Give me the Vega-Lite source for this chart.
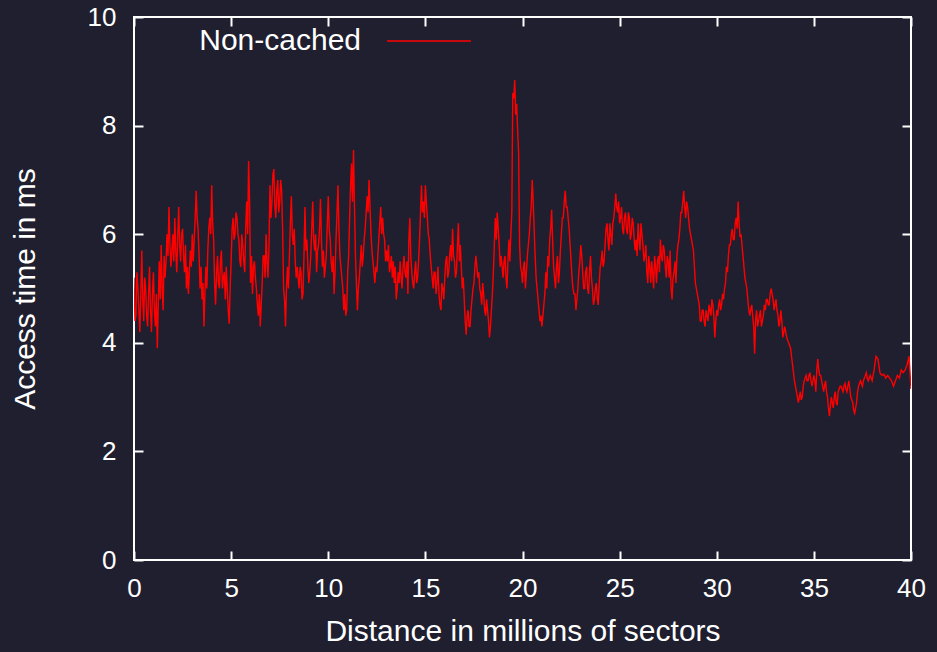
{
"$schema": "https://vega.github.io/schema/vega-lite/v6.json",
"width": 777, "height": 543,
"autosize": "none",
"padding": {"left": 134, "top": 17, "right": 26, "bottom": 92},
"background": "#1f1f2f",
"config": {
  "view": {"stroke": "#ffffff", "strokeWidth": 2},
  "axis": {"domain": false, "grid": false, "tickColor": "#ffffff", "tickSize": -9, "tickWidth": 2, "labelFlush": false,
    "labelColor": "#ffffff", "titleColor": "#ffffff", "labelFont": "Liberation Sans", "titleFont": "Liberation Sans",
    "labelFontSize": 26, "titleFontSize": 30, "titleFontWeight": "normal"},
  "legend": {"labelColor": "#ffffff", "labelFont": "Liberation Sans", "labelFontSize": 30, "labelLimit": 400}
},
"data": {"values": [
{"distance":0.0,"ms":5.2},{"distance":0.05,"ms":4.4},{"distance":0.1,"ms":4.5},{"distance":0.15,"ms":5.3},{"distance":0.2,"ms":5.0},{"distance":0.25,"ms":4.6},{"distance":0.3,"ms":4.2},{"distance":0.35,"ms":4.9},{"distance":0.4,"ms":5.7},{"distance":0.45,"ms":4.8},{"distance":0.5,"ms":4.4},{"distance":0.55,"ms":5.2},{"distance":0.6,"ms":5.0},{"distance":0.65,"ms":4.5},{"distance":0.7,"ms":4.3},{"distance":0.75,"ms":4.9},{"distance":0.8,"ms":5.4},{"distance":0.85,"ms":4.6},{"distance":0.9,"ms":4.2},{"distance":0.95,"ms":4.9},
{"distance":1.0,"ms":5.3},{"distance":1.05,"ms":4.6},{"distance":1.1,"ms":4.3},{"distance":1.15,"ms":4.9},{"distance":1.2,"ms":3.9},{"distance":1.25,"ms":4.7},{"distance":1.3,"ms":5.5},{"distance":1.35,"ms":4.8},{"distance":1.4,"ms":5.8},{"distance":1.45,"ms":5.0},{"distance":1.5,"ms":4.6},{"distance":1.55,"ms":5.6},{"distance":1.6,"ms":5.2},{"distance":1.65,"ms":5.5},{"distance":1.7,"ms":6.0},{"distance":1.75,"ms":5.6},{"distance":1.8,"ms":6.5},{"distance":1.85,"ms":5.8},{"distance":1.9,"ms":5.4},{"distance":1.95,"ms":5.7},
{"distance":2.0,"ms":6.0},{"distance":2.05,"ms":5.5},{"distance":2.1,"ms":6.3},{"distance":2.15,"ms":5.7},{"distance":2.2,"ms":5.3},{"distance":2.25,"ms":5.9},{"distance":2.3,"ms":6.5},{"distance":2.35,"ms":5.8},{"distance":2.4,"ms":5.5},{"distance":2.45,"ms":6.0},{"distance":2.5,"ms":6.1},{"distance":2.55,"ms":5.6},{"distance":2.6,"ms":5.3},{"distance":2.65,"ms":5.8},{"distance":2.7,"ms":5.0},{"distance":2.75,"ms":5.4},{"distance":2.8,"ms":4.9},{"distance":2.85,"ms":5.3},{"distance":2.9,"ms":5.7},{"distance":2.95,"ms":5.4},
{"distance":3.0,"ms":6.0},{"distance":3.05,"ms":5.5},{"distance":3.1,"ms":5.9},{"distance":3.15,"ms":6.3},{"distance":3.2,"ms":6.8},{"distance":3.25,"ms":6.3},{"distance":3.3,"ms":6.1},{"distance":3.35,"ms":5.6},{"distance":3.4,"ms":5.0},{"distance":3.45,"ms":5.4},{"distance":3.5,"ms":4.8},{"distance":3.55,"ms":5.1},{"distance":3.6,"ms":4.3},{"distance":3.65,"ms":4.9},{"distance":3.7,"ms":5.4},{"distance":3.75,"ms":5.0},{"distance":3.8,"ms":5.7},{"distance":3.85,"ms":6.1},{"distance":3.9,"ms":6.3},{"distance":3.95,"ms":6.0},
{"distance":4.0,"ms":6.9},{"distance":4.05,"ms":6.2},{"distance":4.1,"ms":5.9},{"distance":4.15,"ms":5.1},{"distance":4.2,"ms":4.7},{"distance":4.25,"ms":5.3},{"distance":4.3,"ms":5.6},{"distance":4.35,"ms":5.1},{"distance":4.4,"ms":5.0},{"distance":4.45,"ms":5.5},{"distance":4.5,"ms":5.7},{"distance":4.55,"ms":5.0},{"distance":4.6,"ms":5.2},{"distance":4.65,"ms":5.3},{"distance":4.7,"ms":4.8},{"distance":4.75,"ms":5.4},{"distance":4.8,"ms":5.0},{"distance":4.85,"ms":4.6},{"distance":4.9,"ms":4.35},{"distance":4.95,"ms":5.0},
{"distance":5.0,"ms":5.5},{"distance":5.05,"ms":6.1},{"distance":5.1,"ms":6.3},{"distance":5.15,"ms":5.9},{"distance":5.2,"ms":6.0},{"distance":5.25,"ms":6.4},{"distance":5.3,"ms":6.3},{"distance":5.35,"ms":6.0},{"distance":5.4,"ms":5.9},{"distance":5.45,"ms":5.5},{"distance":5.5,"ms":5.4},{"distance":5.55,"ms":6.0},{"distance":5.6,"ms":5.8},{"distance":5.65,"ms":5.5},{"distance":5.7,"ms":5.3},{"distance":5.75,"ms":6.1},{"distance":5.8,"ms":6.6},{"distance":5.85,"ms":6.0},{"distance":5.9,"ms":7.35},{"distance":5.95,"ms":6.6},
{"distance":6.0,"ms":5.1},{"distance":6.05,"ms":5.6},{"distance":6.1,"ms":4.9},{"distance":6.15,"ms":5.4},{"distance":6.2,"ms":5.5},{"distance":6.25,"ms":5.2},{"distance":6.3,"ms":5.0},{"distance":6.35,"ms":4.7},{"distance":6.4,"ms":4.5},{"distance":6.45,"ms":4.9},{"distance":6.5,"ms":4.3},{"distance":6.55,"ms":4.7},{"distance":6.6,"ms":5.1},{"distance":6.65,"ms":5.6},{"distance":6.7,"ms":5.6},{"distance":6.75,"ms":5.2},{"distance":6.8,"ms":6.0},{"distance":6.85,"ms":5.5},{"distance":6.9,"ms":5.2},{"distance":6.95,"ms":5.8},
{"distance":7.0,"ms":6.9},{"distance":7.05,"ms":6.3},{"distance":7.1,"ms":6.6},{"distance":7.15,"ms":7.1},{"distance":7.2,"ms":7.2},{"distance":7.25,"ms":6.5},{"distance":7.3,"ms":6.3},{"distance":7.35,"ms":6.8},{"distance":7.4,"ms":7.0},{"distance":7.45,"ms":6.4},{"distance":7.5,"ms":6.6},{"distance":7.55,"ms":7.0},{"distance":7.6,"ms":6.8},{"distance":7.65,"ms":6.1},{"distance":7.7,"ms":5.0},{"distance":7.75,"ms":4.8},{"distance":7.8,"ms":4.3},{"distance":7.85,"ms":5.0},{"distance":7.9,"ms":5.4},{"distance":7.95,"ms":5.0},
{"distance":8.0,"ms":5.6},{"distance":8.05,"ms":6.2},{"distance":8.1,"ms":6.7},{"distance":8.15,"ms":6.0},{"distance":8.2,"ms":5.8},{"distance":8.25,"ms":6.1},{"distance":8.3,"ms":5.5},{"distance":8.35,"ms":5.2},{"distance":8.4,"ms":5.4},{"distance":8.45,"ms":5.2},{"distance":8.5,"ms":5.0},{"distance":8.55,"ms":5.4},{"distance":8.6,"ms":5.3},{"distance":8.65,"ms":4.8},{"distance":8.7,"ms":4.9},{"distance":8.75,"ms":5.6},{"distance":8.8,"ms":6.5},{"distance":8.85,"ms":5.7},{"distance":8.9,"ms":5.9},{"distance":8.95,"ms":5.4},
{"distance":9.0,"ms":5.1},{"distance":9.05,"ms":5.3},{"distance":9.1,"ms":5.6},{"distance":9.15,"ms":6.1},{"distance":9.2,"ms":6.6},{"distance":9.25,"ms":5.9},{"distance":9.3,"ms":5.7},{"distance":9.35,"ms":6.0},{"distance":9.4,"ms":5.3},{"distance":9.45,"ms":5.7},{"distance":9.5,"ms":5.8},{"distance":9.55,"ms":6.1},{"distance":9.6,"ms":6.65},{"distance":9.65,"ms":5.9},{"distance":9.7,"ms":5.4},{"distance":9.75,"ms":5.7},{"distance":9.8,"ms":5.2},{"distance":9.85,"ms":5.4},{"distance":9.9,"ms":5.6},{"distance":9.95,"ms":6.2},
{"distance":10.0,"ms":6.7},{"distance":10.05,"ms":6.1},{"distance":10.1,"ms":5.9},{"distance":10.15,"ms":5.5},{"distance":10.2,"ms":5.3},{"distance":10.25,"ms":5.6},{"distance":10.3,"ms":4.9},{"distance":10.35,"ms":5.3},{"distance":10.4,"ms":5.9},{"distance":10.45,"ms":6.4},{"distance":10.5,"ms":6.9},{"distance":10.55,"ms":6.1},{"distance":10.6,"ms":5.6},{"distance":10.65,"ms":5.4},{"distance":10.7,"ms":5.2},{"distance":10.75,"ms":5.0},{"distance":10.8,"ms":4.6},{"distance":10.85,"ms":4.9},{"distance":10.9,"ms":4.5},{"distance":10.95,"ms":4.6},
{"distance":11.0,"ms":5.3},{"distance":11.05,"ms":5.6},{"distance":11.1,"ms":6.3},{"distance":11.15,"ms":6.9},{"distance":11.2,"ms":7.3},{"distance":11.25,"ms":6.6},{"distance":11.3,"ms":7.55},{"distance":11.35,"ms":6.5},{"distance":11.4,"ms":5.6},{"distance":11.45,"ms":5.1},{"distance":11.5,"ms":4.6},{"distance":11.55,"ms":5.0},{"distance":11.6,"ms":5.2},{"distance":11.65,"ms":5.5},{"distance":11.7,"ms":5.8},{"distance":11.75,"ms":5.4},{"distance":11.8,"ms":5.6},{"distance":11.85,"ms":5.9},{"distance":11.9,"ms":6.1},{"distance":11.95,"ms":6.4},
{"distance":12.0,"ms":6.7},{"distance":12.05,"ms":6.4},{"distance":12.1,"ms":7.0},{"distance":12.15,"ms":6.5},{"distance":12.2,"ms":6.0},{"distance":12.25,"ms":5.7},{"distance":12.3,"ms":5.5},{"distance":12.35,"ms":5.3},{"distance":12.4,"ms":5.1},{"distance":12.45,"ms":5.4},{"distance":12.5,"ms":5.3},{"distance":12.55,"ms":5.6},{"distance":12.6,"ms":5.9},{"distance":12.65,"ms":6.2},{"distance":12.7,"ms":6.5},{"distance":12.75,"ms":6.0},{"distance":12.8,"ms":6.3},{"distance":12.85,"ms":6.0},{"distance":12.9,"ms":5.9},{"distance":12.95,"ms":5.5},
{"distance":13.0,"ms":5.7},{"distance":13.05,"ms":5.5},{"distance":13.1,"ms":5.8},{"distance":13.15,"ms":5.3},{"distance":13.2,"ms":5.4},{"distance":13.25,"ms":5.6},{"distance":13.3,"ms":5.2},{"distance":13.35,"ms":5.5},{"distance":13.4,"ms":5.1},{"distance":13.45,"ms":5.4},{"distance":13.5,"ms":4.8},{"distance":13.55,"ms":5.0},{"distance":13.6,"ms":5.3},{"distance":13.65,"ms":5.1},{"distance":13.7,"ms":5.5},{"distance":13.75,"ms":5.2},{"distance":13.8,"ms":5.0},{"distance":13.85,"ms":5.4},{"distance":13.9,"ms":5.6},{"distance":13.95,"ms":5.3},
{"distance":14.0,"ms":5.2},{"distance":14.05,"ms":5.5},{"distance":14.1,"ms":4.9},{"distance":14.15,"ms":5.9},{"distance":14.2,"ms":6.3},{"distance":14.25,"ms":5.6},{"distance":14.3,"ms":5.3},{"distance":14.35,"ms":5.1},{"distance":14.4,"ms":5.0},{"distance":14.45,"ms":5.3},{"distance":14.5,"ms":5.5},{"distance":14.55,"ms":5.1},{"distance":14.6,"ms":5.2},{"distance":14.65,"ms":5.5},{"distance":14.7,"ms":5.9},{"distance":14.75,"ms":6.4},{"distance":14.8,"ms":6.9},{"distance":14.85,"ms":6.4},{"distance":14.9,"ms":6.6},{"distance":14.95,"ms":6.3},
{"distance":15.0,"ms":6.9},{"distance":15.05,"ms":6.6},{"distance":15.1,"ms":6.3},{"distance":15.15,"ms":6.0},{"distance":15.2,"ms":5.9},{"distance":15.25,"ms":5.6},{"distance":15.3,"ms":5.4},{"distance":15.35,"ms":5.2},{"distance":15.4,"ms":5.0},{"distance":15.45,"ms":5.3},{"distance":15.5,"ms":5.3},{"distance":15.55,"ms":4.9},{"distance":15.6,"ms":5.1},{"distance":15.65,"ms":5.4},{"distance":15.7,"ms":4.9},{"distance":15.75,"ms":4.7},{"distance":15.8,"ms":4.6},{"distance":15.85,"ms":5.1},{"distance":15.9,"ms":5.0},{"distance":15.95,"ms":4.8},
{"distance":16.0,"ms":5.2},{"distance":16.05,"ms":5.5},{"distance":16.1,"ms":5.6},{"distance":16.15,"ms":5.2},{"distance":16.2,"ms":5.3},{"distance":16.25,"ms":5.6},{"distance":16.3,"ms":5.8},{"distance":16.35,"ms":5.5},{"distance":16.4,"ms":6.1},{"distance":16.45,"ms":5.6},{"distance":16.5,"ms":5.5},{"distance":16.55,"ms":5.2},{"distance":16.6,"ms":5.3},{"distance":16.65,"ms":5.8},{"distance":16.7,"ms":6.2},{"distance":16.75,"ms":5.5},{"distance":16.8,"ms":5.8},{"distance":16.85,"ms":5.4},{"distance":16.9,"ms":5.0},{"distance":16.95,"ms":5.2},
{"distance":17.0,"ms":4.8},{"distance":17.05,"ms":4.4},{"distance":17.1,"ms":4.15},{"distance":17.15,"ms":4.5},{"distance":17.2,"ms":4.6},{"distance":17.25,"ms":4.3},{"distance":17.3,"ms":4.3},{"distance":17.35,"ms":4.6},{"distance":17.4,"ms":4.8},{"distance":17.45,"ms":5.0},{"distance":17.5,"ms":5.1},{"distance":17.55,"ms":5.4},{"distance":17.6,"ms":5.6},{"distance":17.65,"ms":5.4},{"distance":17.7,"ms":5.2},{"distance":17.75,"ms":5.3},{"distance":17.8,"ms":5.0},{"distance":17.85,"ms":4.9},{"distance":17.9,"ms":4.7},{"distance":17.95,"ms":5.1},
{"distance":18.0,"ms":4.9},{"distance":18.05,"ms":4.6},{"distance":18.1,"ms":4.5},{"distance":18.15,"ms":4.8},{"distance":18.2,"ms":4.6},{"distance":18.25,"ms":4.4},{"distance":18.3,"ms":4.1},{"distance":18.35,"ms":4.3},{"distance":18.4,"ms":4.6},{"distance":18.45,"ms":4.9},{"distance":18.5,"ms":5.3},{"distance":18.55,"ms":5.8},{"distance":18.6,"ms":6.3},{"distance":18.65,"ms":5.9},{"distance":18.7,"ms":6.4},{"distance":18.75,"ms":6.1},{"distance":18.8,"ms":5.8},{"distance":18.85,"ms":5.4},{"distance":18.9,"ms":5.6},{"distance":18.95,"ms":5.4},
{"distance":19.0,"ms":5.2},{"distance":19.05,"ms":5.5},{"distance":19.1,"ms":5.6},{"distance":19.15,"ms":5.2},{"distance":19.2,"ms":5.0},{"distance":19.25,"ms":5.5},{"distance":19.3,"ms":5.9},{"distance":19.35,"ms":5.5},{"distance":19.4,"ms":6.0},{"distance":19.45,"ms":6.4},{"distance":19.5,"ms":8.6},{"distance":19.55,"ms":8.5},{"distance":19.6,"ms":8.84},{"distance":19.65,"ms":8.2},{"distance":19.7,"ms":8.4},{"distance":19.75,"ms":7.9},{"distance":19.8,"ms":7.5},{"distance":19.85,"ms":5.8},{"distance":19.9,"ms":5.4},{"distance":19.95,"ms":5.3},
{"distance":20.0,"ms":5.1},{"distance":20.05,"ms":5.4},{"distance":20.1,"ms":5.5},{"distance":20.15,"ms":5.0},{"distance":20.2,"ms":5.3},{"distance":20.25,"ms":5.6},{"distance":20.3,"ms":5.8},{"distance":20.35,"ms":6.0},{"distance":20.4,"ms":6.3},{"distance":20.45,"ms":6.5},{"distance":20.5,"ms":7.0},{"distance":20.55,"ms":6.6},{"distance":20.6,"ms":6.1},{"distance":20.65,"ms":5.6},{"distance":20.7,"ms":5.2},{"distance":20.75,"ms":5.0},{"distance":20.8,"ms":4.8},{"distance":20.85,"ms":4.6},{"distance":20.9,"ms":4.4},{"distance":20.95,"ms":4.5},
{"distance":21.0,"ms":4.3},{"distance":21.05,"ms":4.5},{"distance":21.1,"ms":4.7},{"distance":21.15,"ms":4.9},{"distance":21.2,"ms":5.3},{"distance":21.25,"ms":5.0},{"distance":21.3,"ms":5.6},{"distance":21.35,"ms":5.4},{"distance":21.4,"ms":5.9},{"distance":21.45,"ms":6.1},{"distance":21.5,"ms":6.45},{"distance":21.55,"ms":5.9},{"distance":21.6,"ms":5.4},{"distance":21.65,"ms":5.2},{"distance":21.7,"ms":5.0},{"distance":21.75,"ms":5.4},{"distance":21.8,"ms":5.6},{"distance":21.85,"ms":5.1},{"distance":21.9,"ms":5.3},{"distance":21.95,"ms":5.7},
{"distance":22.0,"ms":6.0},{"distance":22.05,"ms":6.3},{"distance":22.1,"ms":6.3},{"distance":22.15,"ms":6.6},{"distance":22.2,"ms":6.8},{"distance":22.25,"ms":6.5},{"distance":22.3,"ms":6.5},{"distance":22.35,"ms":6.3},{"distance":22.4,"ms":6.1},{"distance":22.45,"ms":5.8},{"distance":22.5,"ms":5.5},{"distance":22.55,"ms":5.2},{"distance":22.6,"ms":5.0},{"distance":22.65,"ms":4.9},{"distance":22.7,"ms":4.9},{"distance":22.75,"ms":4.6},{"distance":22.8,"ms":4.8},{"distance":22.85,"ms":5.0},{"distance":22.9,"ms":5.3},{"distance":22.95,"ms":5.5},
{"distance":23.0,"ms":5.8},{"distance":23.05,"ms":5.6},{"distance":23.1,"ms":5.3},{"distance":23.15,"ms":5.0},{"distance":23.2,"ms":5.0},{"distance":23.25,"ms":5.3},{"distance":23.3,"ms":5.4},{"distance":23.35,"ms":5.0},{"distance":23.4,"ms":4.9},{"distance":23.45,"ms":5.3},{"distance":23.5,"ms":5.6},{"distance":23.55,"ms":5.2},{"distance":23.6,"ms":5.0},{"distance":23.65,"ms":4.7},{"distance":23.7,"ms":4.8},{"distance":23.75,"ms":5.0},{"distance":23.8,"ms":5.1},{"distance":23.85,"ms":4.8},{"distance":23.9,"ms":4.7},{"distance":23.95,"ms":5.1},
{"distance":24.0,"ms":5.4},{"distance":24.05,"ms":5.5},{"distance":24.1,"ms":5.7},{"distance":24.15,"ms":5.4},{"distance":24.2,"ms":5.5},{"distance":24.25,"ms":5.8},{"distance":24.3,"ms":6.1},{"distance":24.35,"ms":6.2},{"distance":24.4,"ms":5.9},{"distance":24.45,"ms":5.7},{"distance":24.5,"ms":6.2},{"distance":24.55,"ms":6.0},{"distance":24.6,"ms":5.8},{"distance":24.65,"ms":6.2},{"distance":24.7,"ms":6.3},{"distance":24.75,"ms":6.5},{"distance":24.8,"ms":6.75},{"distance":24.85,"ms":6.5},{"distance":24.9,"ms":6.4},{"distance":24.95,"ms":6.6},
{"distance":25.0,"ms":6.2},{"distance":25.05,"ms":6.3},{"distance":25.1,"ms":6.5},{"distance":25.15,"ms":6.1},{"distance":25.2,"ms":6.0},{"distance":25.25,"ms":6.3},{"distance":25.3,"ms":6.4},{"distance":25.35,"ms":6.1},{"distance":25.4,"ms":6.0},{"distance":25.45,"ms":6.4},{"distance":25.5,"ms":6.3},{"distance":25.55,"ms":5.9},{"distance":25.6,"ms":6.0},{"distance":25.65,"ms":6.3},{"distance":25.7,"ms":6.2},{"distance":25.75,"ms":5.9},{"distance":25.8,"ms":5.7},{"distance":25.85,"ms":5.9},{"distance":25.9,"ms":5.6},{"distance":25.95,"ms":6.2},
{"distance":26.0,"ms":5.9},{"distance":26.05,"ms":5.7},{"distance":26.1,"ms":6.2},{"distance":26.15,"ms":6.0},{"distance":26.2,"ms":5.8},{"distance":26.25,"ms":5.5},{"distance":26.3,"ms":5.6},{"distance":26.35,"ms":5.8},{"distance":26.4,"ms":5.3},{"distance":26.45,"ms":5.1},{"distance":26.5,"ms":5.6},{"distance":26.55,"ms":5.4},{"distance":26.6,"ms":5.1},{"distance":26.65,"ms":5.5},{"distance":26.7,"ms":5.3},{"distance":26.75,"ms":5.0},{"distance":26.8,"ms":5.6},{"distance":26.85,"ms":5.4},{"distance":26.9,"ms":5.1},{"distance":26.95,"ms":5.5},
{"distance":27.0,"ms":5.6},{"distance":27.05,"ms":5.3},{"distance":27.1,"ms":5.9},{"distance":27.15,"ms":5.6},{"distance":27.2,"ms":5.5},{"distance":27.25,"ms":5.8},{"distance":27.3,"ms":5.7},{"distance":27.35,"ms":5.4},{"distance":27.4,"ms":5.2},{"distance":27.45,"ms":5.6},{"distance":27.5,"ms":5.5},{"distance":27.55,"ms":5.2},{"distance":27.6,"ms":5.7},{"distance":27.65,"ms":5.0},{"distance":27.7,"ms":4.8},{"distance":27.75,"ms":5.2},{"distance":27.8,"ms":5.3},{"distance":27.85,"ms":5.5},{"distance":27.9,"ms":5.1},{"distance":27.95,"ms":5.6},
{"distance":28.0,"ms":5.8},{"distance":28.05,"ms":5.9},{"distance":28.1,"ms":6.1},{"distance":28.15,"ms":6.4},{"distance":28.2,"ms":6.4},{"distance":28.25,"ms":6.6},{"distance":28.3,"ms":6.8},{"distance":28.35,"ms":6.5},{"distance":28.4,"ms":6.3},{"distance":28.45,"ms":6.6},{"distance":28.5,"ms":6.5},{"distance":28.55,"ms":6.3},{"distance":28.6,"ms":6.1},{"distance":28.65,"ms":6.0},{"distance":28.7,"ms":5.9},{"distance":28.75,"ms":5.8},{"distance":28.8,"ms":5.7},{"distance":28.85,"ms":5.4},{"distance":28.9,"ms":5.1},{"distance":28.95,"ms":5.0},
{"distance":29.0,"ms":4.9},{"distance":29.05,"ms":4.8},{"distance":29.1,"ms":4.7},{"distance":29.15,"ms":4.4},{"distance":29.2,"ms":4.4},{"distance":29.25,"ms":4.6},{"distance":29.3,"ms":4.6},{"distance":29.35,"ms":4.4},{"distance":29.4,"ms":4.3},{"distance":29.45,"ms":4.6},{"distance":29.5,"ms":4.5},{"distance":29.55,"ms":4.4},{"distance":29.6,"ms":4.7},{"distance":29.65,"ms":4.6},{"distance":29.7,"ms":4.5},{"distance":29.75,"ms":4.8},{"distance":29.8,"ms":4.7},{"distance":29.85,"ms":4.5},{"distance":29.9,"ms":4.1},{"distance":29.95,"ms":4.4},
{"distance":30.0,"ms":4.6},{"distance":30.05,"ms":4.5},{"distance":30.1,"ms":4.7},{"distance":30.15,"ms":4.8},{"distance":30.2,"ms":4.6},{"distance":30.25,"ms":4.7},{"distance":30.3,"ms":4.9},{"distance":30.35,"ms":4.8},{"distance":30.4,"ms":5.0},{"distance":30.45,"ms":5.1},{"distance":30.5,"ms":5.4},{"distance":30.55,"ms":5.3},{"distance":30.6,"ms":5.6},{"distance":30.65,"ms":5.8},{"distance":30.7,"ms":5.8},{"distance":30.75,"ms":6.0},{"distance":30.8,"ms":6.1},{"distance":30.85,"ms":5.9},{"distance":30.9,"ms":5.9},{"distance":30.95,"ms":6.2},
{"distance":31.0,"ms":6.3},{"distance":31.05,"ms":6.1},{"distance":31.1,"ms":6.6},{"distance":31.15,"ms":6.2},{"distance":31.2,"ms":5.95},{"distance":31.25,"ms":6.0},{"distance":31.3,"ms":5.8},{"distance":31.35,"ms":5.6},{"distance":31.4,"ms":5.4},{"distance":31.45,"ms":5.2},{"distance":31.5,"ms":5.1},{"distance":31.55,"ms":5.0},{"distance":31.6,"ms":4.8},{"distance":31.65,"ms":4.6},{"distance":31.7,"ms":4.5},{"distance":31.75,"ms":4.6},{"distance":31.8,"ms":4.7},{"distance":31.85,"ms":4.5},{"distance":31.9,"ms":4.3},{"distance":31.95,"ms":3.8},
{"distance":32.0,"ms":4.4},{"distance":32.05,"ms":4.6},{"distance":32.1,"ms":4.3},{"distance":32.15,"ms":4.4},{"distance":32.2,"ms":4.5},{"distance":32.25,"ms":4.6},{"distance":32.3,"ms":4.3},{"distance":32.35,"ms":4.4},{"distance":32.4,"ms":4.5},{"distance":32.45,"ms":4.7},{"distance":32.5,"ms":4.6},{"distance":32.55,"ms":4.8},{"distance":32.6,"ms":4.8},{"distance":32.65,"ms":4.7},{"distance":32.7,"ms":4.7},{"distance":32.75,"ms":4.9},{"distance":32.8,"ms":5.0},{"distance":32.85,"ms":4.9},{"distance":32.9,"ms":4.8},{"distance":32.95,"ms":4.6},
{"distance":33.0,"ms":4.7},{"distance":33.05,"ms":4.8},{"distance":33.1,"ms":4.6},{"distance":33.15,"ms":4.5},{"distance":33.2,"ms":4.3},{"distance":33.25,"ms":4.4},{"distance":33.3,"ms":4.6},{"distance":33.35,"ms":4.4},{"distance":33.4,"ms":4.1},{"distance":33.5,"ms":4.3},{"distance":33.6,"ms":4.1},{"distance":33.7,"ms":4.0},{"distance":33.8,"ms":3.9},{"distance":33.9,"ms":3.6},
{"distance":34.0,"ms":3.3},{"distance":34.05,"ms":3.2},{"distance":34.1,"ms":3.1},{"distance":34.15,"ms":3.0},{"distance":34.2,"ms":2.9},{"distance":34.25,"ms":3.0},{"distance":34.3,"ms":3.1},{"distance":34.35,"ms":2.95},{"distance":34.4,"ms":3.0},{"distance":34.45,"ms":3.2},{"distance":34.5,"ms":3.3},{"distance":34.55,"ms":3.35},{"distance":34.6,"ms":3.4},{"distance":34.65,"ms":3.3},{"distance":34.7,"ms":3.3},{"distance":34.75,"ms":3.4},{"distance":34.8,"ms":3.45},{"distance":34.85,"ms":3.3},{"distance":34.9,"ms":3.2},{"distance":34.95,"ms":3.3},
{"distance":35.0,"ms":3.4},{"distance":35.05,"ms":3.3},{"distance":35.1,"ms":3.1},{"distance":35.15,"ms":3.5},{"distance":35.2,"ms":3.7},{"distance":35.25,"ms":3.5},{"distance":35.3,"ms":3.4},{"distance":35.35,"ms":3.4},{"distance":35.4,"ms":3.3},{"distance":35.45,"ms":3.2},{"distance":35.5,"ms":3.1},{"distance":35.55,"ms":3.2},{"distance":35.6,"ms":3.3},{"distance":35.65,"ms":3.1},{"distance":35.7,"ms":3.0},{"distance":35.75,"ms":2.8},{"distance":35.8,"ms":2.65},{"distance":35.85,"ms":2.85},{"distance":35.9,"ms":3.0},{"distance":35.95,"ms":2.9},
{"distance":36.0,"ms":2.8},{"distance":36.05,"ms":3.0},{"distance":36.1,"ms":3.1},{"distance":36.15,"ms":2.9},{"distance":36.2,"ms":2.85},{"distance":36.25,"ms":3.1},{"distance":36.3,"ms":3.15},{"distance":36.35,"ms":3.2},{"distance":36.4,"ms":3.2},{"distance":36.45,"ms":3.15},{"distance":36.5,"ms":3.1},{"distance":36.55,"ms":3.2},{"distance":36.6,"ms":3.25},{"distance":36.65,"ms":3.15},{"distance":36.7,"ms":3.1},{"distance":36.75,"ms":3.2},{"distance":36.8,"ms":3.3},{"distance":36.85,"ms":3.15},{"distance":36.9,"ms":3.0},{"distance":36.95,"ms":2.95},
{"distance":37.0,"ms":2.9},{"distance":37.05,"ms":2.75},{"distance":37.1,"ms":2.7},{"distance":37.15,"ms":2.8},{"distance":37.2,"ms":2.9},{"distance":37.25,"ms":3.1},{"distance":37.3,"ms":3.2},{"distance":37.35,"ms":3.25},{"distance":37.4,"ms":3.3},{"distance":37.45,"ms":3.25},{"distance":37.5,"ms":3.2},{"distance":37.55,"ms":3.3},{"distance":37.6,"ms":3.35},{"distance":37.65,"ms":3.4},{"distance":37.7,"ms":3.45},{"distance":37.75,"ms":3.35},{"distance":37.8,"ms":3.3},{"distance":37.85,"ms":3.35},{"distance":37.9,"ms":3.4},{"distance":37.95,"ms":3.35},
{"distance":38.0,"ms":3.3},{"distance":38.1,"ms":3.5},{"distance":38.2,"ms":3.75},{"distance":38.3,"ms":3.7},{"distance":38.4,"ms":3.45},{"distance":38.5,"ms":3.4},{"distance":38.6,"ms":3.42},{"distance":38.7,"ms":3.35},{"distance":38.8,"ms":3.4},{"distance":38.9,"ms":3.35},
{"distance":39.0,"ms":3.3},{"distance":39.1,"ms":3.2},{"distance":39.2,"ms":3.3},{"distance":39.3,"ms":3.4},{"distance":39.4,"ms":3.35},{"distance":39.5,"ms":3.5},{"distance":39.6,"ms":3.45},{"distance":39.7,"ms":3.5},{"distance":39.8,"ms":3.6},{"distance":39.9,"ms":3.75},
{"distance":40.0,"ms":3.15}
]},
"layer": [
  {
    "mark": {"type": "line", "strokeWidth": 1.4, "clip": true},
    "encoding": {
      "x": {"field": "distance", "type": "quantitative", "scale": {"domain": [0, 40], "nice": false, "zero": false},
        "axis": {"values": [0,5,10,15,20,25,30,35,40], "title": "Distance in millions of sectors", "labelPadding": 24, "titlePadding": 15}},
      "y": {"field": "ms", "type": "quantitative", "scale": {"domain": [0, 10], "nice": false},
        "axis": {"values": [0,2,4,6,8,10], "title": "Access time in ms", "labelPadding": 27, "titlePadding": 47}},
      "color": {"datum": "Non-cached", "type": "nominal", "scale": {"range": ["#ff0000"]},
        "legend": {"title": null, "orient": "none", "legendX": 252, "legendY": -19, "symbolType": "stroke", "symbolSize": 7056, "symbolStrokeWidth": 1.5, "symbolOpacity": 1, "labelAlign": "right", "labelOffset": -111, "labelLimit": 400}}
    }
  },
  {
    "mark": {"type": "line", "opacity": 0},
    "encoding": {
      "x": {"field": "distance", "type": "quantitative", "axis": {"orient": "top", "values": [0,5,10,15,20,25,30,35,40], "labels": false, "title": null}},
      "y": {"field": "ms", "type": "quantitative", "axis": {"orient": "right", "values": [0,2,4,6,8,10], "labels": false, "title": null}}
    }
  }
],
"resolve": {"axis": {"x": "independent", "y": "independent"}}
}
